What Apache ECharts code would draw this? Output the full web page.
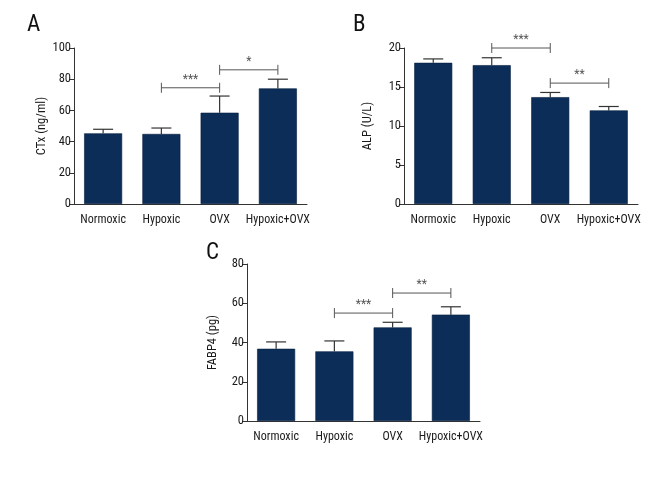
<!DOCTYPE html>
<html>
<head>
<meta charset="utf-8">
<script src="https://cdn.jsdelivr.net/npm/echarts@6/dist/echarts.min.js"></script>
<style>
  html, body { margin: 0; padding: 0; background: #fff; }
  #chart { width: 672px; height: 480px; }
</style>
</head>
<body>
<div id="chart"></div>
<script>
// groups on the x axis
const groups = ["Normoxic", "Hypoxic", "OVX", "Hypoxic+OVX"];

// A: CTx (ng/ml)
const ctxMean = [45.3, 44.9, 58.5, 74.1];
const ctxUpper = [47.9, 48.7, 69.2, 80.0];
// [from group, to group, height, stars]
const ctxSig = [[1, 2, 74.5, "***"], [2, 3, 86.0, "*"]];

// B: ALP (U/L)
const alpMean = [18.1, 17.8, 13.7, 12.0];
const alpUpper = [18.6, 18.75, 14.3, 12.5];
const alpSig = [[1, 2, 20.0, "***"], [2, 3, 15.5, "**"]];

// C: FABP4 (pg)
const fabpMean = [36.8, 35.5, 47.7, 54.2];
const fabpUpper = [40.3, 40.8, 50.3, 58.2];
const fabpSig = [[1, 2, 55.0, "***"], [2, 3, 65.2, "**"]];

const FONT = "'Roboto Condensed', 'Liberation Sans Narrow', sans-serif";
const BAR = "#0b2d57";

const chart = echarts.init(document.getElementById("chart"));

// 误差线: vertical line from the mean up to mean+SD, with a cap
function errorBar(params, api) {
  const i = api.value(0);
  const top = api.coord([i, api.value(2)]);
  const base = api.coord([i, api.value(1)]);
  return {
    type: "group",
    children: [
      { type: "line", shape: { x1: base[0], y1: base[1], x2: top[0], y2: top[1] }, style: { stroke: "#333", lineWidth: 1.2 } },
      { type: "line", shape: { x1: top[0] - 10, y1: top[1], x2: top[0] + 10, y2: top[1] }, style: { stroke: "#333", lineWidth: 1.2 } }
    ]
  };
}

const sigLookup = { sigA: ctxSig, sigB: alpSig, sigC: fabpSig };

// significance bracket |---|
function bracket(params, api) {
  const a = api.coord([api.value(0), api.value(2)]);
  const b = api.coord([api.value(1), api.value(2)]);
  const stars = sigLookup[params.seriesId][params.dataIndex][3];
  const st = { stroke: "#555", lineWidth: 1 };
  return {
    type: "group",
    children: [
      { type: "line", shape: { x1: a[0], y1: a[1], x2: b[0], y2: b[1] }, style: st },
      { type: "line", shape: { x1: a[0], y1: a[1] - 5, x2: a[0], y2: a[1] + 5 }, style: st },
      { type: "line", shape: { x1: b[0], y1: b[1] - 5, x2: b[0], y2: b[1] + 5 }, style: st },
      { type: "text", style: { text: stars, x: (a[0] + b[0]) / 2, y: a[1] - 2, align: "center", verticalAlign: "bottom", fill: "#555", font: "12px " + FONT } }
    ]
  };
}

const grids = [
  { left: 74, top: 48, width: 233, height: 156 },
  { left: 404, top: 48, width: 234, height: 156 },
  { left: 247, top: 264, width: 233, height: 157 }
];

const yCfg = [
  { name: "CTx (ng/ml)", max: 100, interval: 20, gap: 25 },
  { name: "ALP (U/L)", max: 20, interval: 5, gap: 30 },
  { name: "FABP4 (pg)", max: 80, interval: 20, gap: 28 }
];

const option = {
  animation: false,
  backgroundColor: "#fff",
  grid: grids,
  xAxis: grids.map((g, k) => ({
    type: "category",
    gridIndex: k,
    data: groups,
    axisLine: { lineStyle: { color: "#333", width: 1 } },
    axisTick: { alignWithLabel: true, length: 5, lineStyle: { color: "#333" } },
    axisLabel: { color: "#1a1a1a", fontSize: 12, fontFamily: FONT, margin: 10, interval: 0 }
  })),
  yAxis: yCfg.map((c, k) => ({
    type: "value",
    gridIndex: k,
    min: 0,
    max: c.max,
    interval: c.interval,
    name: c.name,
    nameLocation: "middle",
    nameGap: c.gap,
    nameTextStyle: { color: "#1a1a1a", fontSize: 12.5, fontFamily: FONT },
    axisLine: { show: true, lineStyle: { color: "#333", width: 1 } },
    axisTick: { show: true, length: 5, lineStyle: { color: "#333" } },
    axisLabel: { color: "#1a1a1a", fontSize: 12.5, fontFamily: FONT, margin: 3 },
    splitLine: { show: false }
  })),
  graphic: [
    { type: "text", left: 27, top: 14, style: { text: "A", font: "23px " + FONT, fill: "#111" } },
    { type: "text", left: 353, top: 14, style: { text: "B", font: "23px " + FONT, fill: "#111" } },
    { type: "text", left: 206, top: 242, style: { text: "C", font: "23px " + FONT, fill: "#111" } }
  ],
  series: []
};

[[ctxMean, ctxUpper, ctxSig, "sigA"], [alpMean, alpUpper, alpSig, "sigB"], [fabpMean, fabpUpper, fabpSig, "sigC"]].forEach((set, k) => {
  const mean = set[0], upper = set[1], sig = set[2];
  option.series.push({
    type: "bar",
    xAxisIndex: k,
    yAxisIndex: k,
    data: mean,
    barWidth: 38,
    itemStyle: { color: BAR, borderColor: "#07203f", borderWidth: 0.6 },
    z: 3
  });
  option.series.push({
    type: "custom",
    xAxisIndex: k,
    yAxisIndex: k,
    renderItem: errorBar,
    data: mean.map((m, i) => [i, m, upper[i]]),
    z: 2
  });
  option.series.push({
    type: "custom",
    id: set[3],
    xAxisIndex: k,
    yAxisIndex: k,
    renderItem: bracket,
    data: sig.map(s => [s[0], s[1], s[2]]),
    clip: false,
    z: 4
  });
});

chart.setOption(option);
</script>
</body>
</html>
